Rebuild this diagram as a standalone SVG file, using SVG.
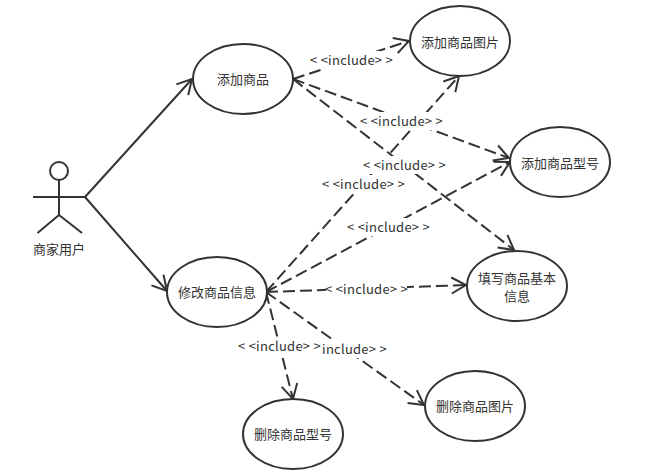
<svg xmlns="http://www.w3.org/2000/svg" width="658" height="476" viewBox="0 0 658 476">
<style>
text{font-family:"Noto Sans CJK SC","Liberation Sans",sans-serif;font-size:13px;fill:#333;text-anchor:middle;dominant-baseline:central}
.l{letter-spacing:.25px}
.n{fill:#fff;stroke:#333;stroke-width:2}
.a{fill:none;stroke:#333;stroke-width:2}
.d{fill:none;stroke:#333;stroke-width:2;stroke-dasharray:12 5;marker-end:url(#h)}
.s{fill:none;stroke:#333;stroke-width:2;marker-end:url(#h)}
.b{fill:#fff}
</style>
<defs><marker id="h" markerUnits="userSpaceOnUse" markerWidth="20" markerHeight="20" refX="16" refY="10" orient="auto" overflow="visible"><path d="M1.500 2L16 10L1.500 18" fill="none" stroke="#333" stroke-width="2"/></marker></defs>
<rect width="658" height="476" fill="#fff"/>
<g id="connectors">
<path class="s" d="M85 197L192 79"/>
<path class="s" d="M85 197L167 291"/>
<path class="d" d="M293 79L409 41"/>
<path class="d" d="M293 79L509 158"/>
<path class="d" d="M293 79L514 250"/>
<path class="d" d="M266 292L459 76"/>
<path class="d" d="M266 292L510 162"/>
<path class="d" d="M266 292L466 285"/>
<path class="d" d="M266 292L293 399"/>
<path class="d" d="M266 292L424 405"/>
</g>
<g id="labels">
<rect class="b" x="311" y="51" width="81" height="18"/><text class="l" x="351.500" y="59.500">&lt; &lt;include&gt; &gt;</text>
<rect class="b" x="361" y="112" width="81" height="18"/><text class="l" x="401.500" y="120.500">&lt; &lt;include&gt; &gt;</text>
<rect class="b" x="364" y="156" width="81" height="18"/><text class="l" x="404.500" y="164.500">&lt; &lt;include&gt; &gt;</text>
<rect class="b" x="323" y="175" width="81" height="18"/><text class="l" x="363.500" y="183.500">&lt; &lt;include&gt; &gt;</text>
<rect class="b" x="348" y="218" width="81" height="18"/><text class="l" x="388.500" y="226.500">&lt; &lt;include&gt; &gt;</text>
<rect class="b" x="326" y="280" width="81" height="18"/><text class="l" x="366.500" y="288.500">&lt; &lt;include&gt; &gt;</text>
<rect class="b" x="239" y="337" width="81" height="18"/><text class="l" x="279.500" y="345.500">&lt; &lt;include&gt; &gt;</text>
<rect class="b" x="323" y="340" width="63" height="18"/><text class="l" x="354.500" y="348.500">include&gt; &gt;</text>
</g>
<g id="actor">
<circle class="a" cx="59" cy="171" r="9"/>
<path class="a" d="M59 180V215M33 197H85M59 215L37.500 233M59 215L82 233"/>
<text x="59" y="248">商家用户</text>
</g>
<g id="n1"><ellipse class="n" cx="243" cy="79" rx="50" ry="35"/><text x="243" y="78">添加商品</text></g>
<g id="n2"><ellipse class="n" cx="460" cy="41" rx="50" ry="35"/><text x="460" y="41">添加商品图片</text></g>
<g id="n3"><ellipse class="n" cx="560" cy="162" rx="50" ry="35"/><text x="560" y="162">添加商品型号</text></g>
<g id="n4"><ellipse class="n" cx="217" cy="292" rx="50" ry="35"/><text x="217" y="291">修改商品信息</text></g>
<g id="n5"><ellipse class="n" cx="517" cy="286" rx="50" ry="35"/><text x="517" y="277">填写商品基本</text><text x="517" y="295">信息</text></g>
<g id="n6"><ellipse class="n" cx="475" cy="406" rx="50" ry="35"/><text x="475" y="405">删除商品图片</text></g>
<g id="n7"><ellipse class="n" cx="293" cy="434" rx="50" ry="35"/><text x="293" y="433">删除商品型号</text></g>
</svg>
